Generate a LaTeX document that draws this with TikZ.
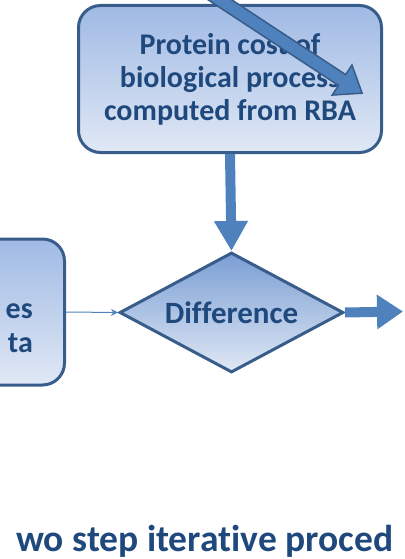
\documentclass[tikz,border=0pt]{standalone}
\usepackage{fontspec}
\setmainfont{Carlito}[Ligatures=NoCommon]
\usetikzlibrary{shapes.geometric,arrows.meta}
\definecolor{bord}{HTML}{385D8A}
\definecolor{txt}{HTML}{1F497D}
\definecolor{acc}{HTML}{4F81BD}
\definecolor{boxtop}{HTML}{A0BAE4}
\definecolor{boxbot}{HTML}{E0E8F5}
\definecolor{diatop}{HTML}{7A9ED3}
\begin{document}
\begin{tikzpicture}[x=1pt,y=1pt,
  procbox/.style={draw=bord, line width=3pt, rounded corners=22pt, top color=boxtop, bottom color=boxbot, text=txt, font=\fontsize{30}{33}\selectfont\bfseries, align=center},
  lbl/.style={text=txt, font=\fontsize{30}{33}\selectfont\bfseries, inner sep=0pt},
  fatarrow/.style={acc, line width=10pt}
]
\useasboundingbox (0,0) rectangle (404,-559);
\clip (0,0) rectangle (404,-559);
\node[procbox, minimum width=303pt, minimum height=147pt] (cost) at (230,-79) {Protein cost of\\biological process\\computed from RBA};
\node[procbox, minimum width=150pt, minimum height=146pt, anchor=east] (data) at (66,-312) {};
\node[lbl, anchor=base east] (es) at (33,-318) {es};
\node[lbl, anchor=base east] (ta) at (33,-352) {ta};
\node[diamond, shape aspect=1.85, draw=bord, line width=3pt, top color=diatop, bottom color=boxbot, minimum width=224pt, minimum height=120pt, inner sep=0pt, text=txt, font=\fontsize{31}{33}\selectfont\bfseries] (diff) at (231.5,-312.5) {Difference};
\draw[fatarrow, -{Triangle[length=30pt,width=32pt]}] (cost.south) -- (diff.north);
\coordinate (rend) at (403,-311.5);
\draw[fatarrow, -{Triangle[length=26pt,width=33pt]}] (diff.east) -- (rend);
\draw[acc, line width=1pt, -{Stealth[length=7pt,width=7pt]}] (data.east) -- (diff.west);
\coordinate (dstart) at (205,10);
\begin{scope}[shift={(dstart)}, rotate=-33.3]
\draw[fill=acc, draw=bord, line width=1.5pt, line join=miter] (0,6.5) -- (164,6.5) -- (164,18) -- (188,0) -- (164,-18) -- (164,-6.5) -- (0,-6.5) -- cycle;
\end{scope}
\node[text=txt, font=\fontsize{37.5}{40}\selectfont\bfseries, anchor=base west, inner sep=0pt] (title) at (16,-551) {wo step iterative proced};
\end{tikzpicture}
\end{document}
